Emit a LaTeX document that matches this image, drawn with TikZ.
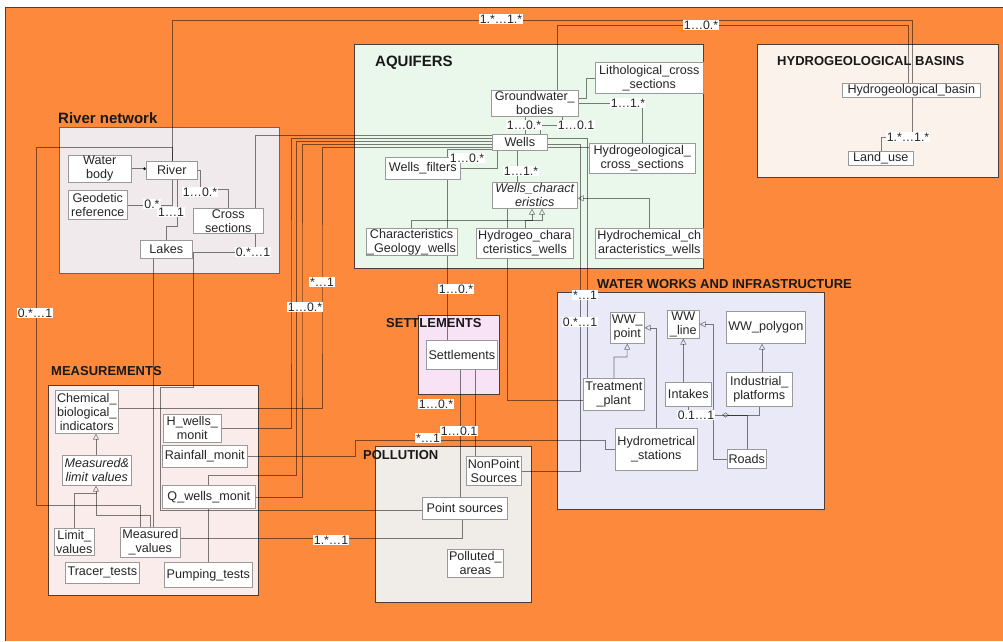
\documentclass[tikz,border=0pt]{standalone}
\usepackage{fontspec}
\setmainfont{Liberation Sans}
\usetikzlibrary{arrows.meta}

\pgfdeclarelayer{back}
\pgfdeclarelayer{wires}
\pgfsetlayers{back,wires,main}

\definecolor{orangebg}{RGB}{253,137,60}
\definecolor{pkgline}{RGB}{80,60,50}
\definecolor{aqfill}{RGB}{233,248,234}
\definecolor{hbfill}{RGB}{252,242,236}
\definecolor{rnfill}{RGB}{240,234,236}
\definecolor{rnline}{RGB}{225,50,60}
\definecolor{msfill}{RGB}{251,236,236}
\definecolor{stfill}{RGB}{248,226,246}
\definecolor{plfill}{RGB}{240,236,232}
\definecolor{wwfill}{RGB}{233,233,248}

\newcommand{\clsfont}{\fontsize{12.6}{13.8}\selectfont}
\newcommand{\pkgfont}{\bfseries\fontsize{13}{15}\selectfont}
\newcommand{\bigpkgfont}{\bfseries\fontsize{15}{17}\selectfont}
\newcommand{\multfont}{\fontsize{12.3}{13}\selectfont}

\begin{document}
\begin{tikzpicture}[x=1pt,y=-1pt,
    cls/.style={draw=black!40, fill=white, font=\clsfont, align=center,
      inner sep=0.8pt, line width=0.6pt, anchor=north west, text=black!85},
    pkg/.style={draw=pkgline, line width=0.8pt},
    title/.style={font=\pkgfont, anchor=west, inner sep=0pt, text=black!90},
    conn/.style={draw=black, draw opacity=0.5, line width=0.6pt},
    gen/.style={-{Triangle[open,length=6pt,width=6pt]}},
    mult/.style={fill=white, font=\multfont, inner sep=1pt, text=black!85}]
  \useasboundingbox (0,0) rectangle (1003,641);

  % packages
  \begin{pgfonlayer}{back}
    \fill[white] (0,0) rectangle (1003,641);
    \fill[orangebg] (5,7) rectangle (1003,641);
    \draw[pkgline, line width=1pt] (5,641) -- (5,7) -- (1003,7);
    \filldraw[pkg, fill=aqfill] (354,44) rectangle (703,268);
    \filldraw[pkg, fill=hbfill] (757,44) rectangle (998,177);
    \filldraw[pkg, draw=rnline, fill=rnfill] (59,127) rectangle (279,273);
    \filldraw[pkg, fill=msfill] (48,385) rectangle (258,595);
    \filldraw[pkg, fill=stfill] (418,315) rectangle (499,394);
    \filldraw[pkg, fill=plfill] (375,446) rectangle (531,602);
    \filldraw[pkg, fill=wwfill] (557,292) rectangle (824,509);
  \end{pgfonlayer}

  \node[title, font=\bigpkgfont] (trn) at (58,118) {River network};
  \node[title, font=\bigpkgfont] (taq) at (375,63) {AQUIFERS};
  \node[title] (thb) at (777,61) {HYDROGEOLOGICAL BASINS};
  \node[title] (tms) at (51,371) {MEASUREMENTS};
  \node[title] (tst) at (386,323) {SETTLEMENTS};
  \node[title] (tpl) at (363,455) {POLLUTION};
  \node[title] (tww) at (597,284) {WATER WORKS AND INFRASTRUCTURE};

  % river network
  \node[cls, minimum width=63, minimum height=23] (wbody) at (68,155) {Water\\body};
  \node[cls, minimum width=51, minimum height=18] (river) at (146,161) {River};
  \node[cls, minimum width=59, minimum height=29] (geod) at (68,190) {Geodetic\\reference};
  \node[cls, minimum width=70, minimum height=25] (cross) at (193,208) {Cross\\sections};
  \node[cls, minimum width=52, minimum height=18] (lakes) at (140,240) {Lakes};

  % aquifers
  \node[cls, minimum width=108, minimum height=31] (litho) at (595,62) {Lithological\_cross\\\_sections};
  \node[cls, minimum width=87, minimum height=26] (gwb) at (491,90) {Groundwater\_\\bodies};
  \node[cls, minimum width=55, minimum height=16] (wells) at (492,134) {Wells};
  \node[cls, minimum width=106, minimum height=30] (hcross) at (589,143) {Hydrogeological\_\\cross\_sections};
  \node[cls, minimum width=75, minimum height=22] (wfilt) at (385,157) {Wells\_filters};
  \node[cls, minimum width=85, minimum height=26, font=\clsfont\itshape] (wchar) at (492,182) {Wells\_charact\\eristics};
  \node[cls, minimum width=88, minimum height=27] (cgeo) at (366,228) {Characteristics\\\_Geology\_wells};
  \node[cls, minimum width=97, minimum height=30] (chgeo) at (476,228) {Hydrogeo\_chara\\cteristics\_wells};
  \node[cls, minimum width=108, minimum height=30] (chchem) at (595,228) {Hydrochemical\_ch\\aracteristics\_wells};

  % hydrogeological basins
  \node[cls, minimum width=138, minimum height=14] (hbasin) at (842,83) {Hydrogeological\_basin};
  \node[cls, minimum width=65, minimum height=14] (landuse) at (848,151) {Land\_use};

  % measurements
  \node[cls, minimum width=63, minimum height=43] (chem) at (55,390) {Chemical\_\\biological\_\\indicators};
  \node[cls, minimum width=58, minimum height=28] (hwm) at (163,414) {H\_wells\_\\monit};
  \node[cls, minimum width=85, minimum height=22] (rain) at (162,445) {Rainfall\_monit};
  \node[cls, minimum width=69, minimum height=30, font=\clsfont\itshape] (mlv) at (62,455) {Measured\&\\limit values};
  \node[cls, minimum width=93, minimum height=23] (qwm) at (162,485) {Q\_wells\_monit};
  \node[cls, minimum width=40, minimum height=27] (limv) at (54,528) {Limit\_\\values};
  \node[cls, minimum width=60, minimum height=30] (measv) at (120,527) {Measured\\\_values};
  \node[cls, minimum width=74, minimum height=21] (tracer) at (65,562) {Tracer\_tests};
  \node[cls, minimum width=88, minimum height=25] (pump) at (164,562) {Pumping\_tests};

  % settlements and pollution
  \node[cls, minimum width=71, minimum height=29] (settl) at (426,340) {Settlements};
  \node[cls, minimum width=55, minimum height=29] (nps) at (466,456) {NonPoint\\Sources};
  \node[cls, minimum width=85, minimum height=22] (ps) at (422,497) {Point sources};
  \node[cls, minimum width=56, minimum height=28] (parea) at (447,549) {Polluted\_\\areas};

  % water works
  \node[cls, minimum width=34, minimum height=31] (wwpt) at (610,312) {WW\_\\point};
  \node[cls, minimum width=32, minimum height=28] (wwln) at (667,310) {WW\\\_line};
  \node[cls, minimum width=79, minimum height=32] (wwpg) at (726,311) {WW\_polygon};
  \node[cls, minimum width=61, minimum height=32] (treat) at (583,378) {Treatment\\\_plant};
  \node[cls, minimum width=46, minimum height=24] (intake) at (665,382) {Intakes};
  \node[cls, minimum width=66, minimum height=34] (indus) at (726,372) {Industrial\_\\platforms};
  \node[cls, minimum width=82, minimum height=42] (hydst) at (615,428) {Hydrometrical\\\_stations};
  \node[cls, minimum width=39, minimum height=19] (roads) at (727,449) {Roads};

  \coordinate (mjoin) at (96,493);
  \coordinate (ipj) at (722,415);

  \begin{pgfonlayer}{wires}
    % long links
    \draw[conn] (river.north) |- (912,20) |- (landuse.north |- 0,137) -- (landuse.north);
    \draw[conn] (557,0 |- gwb.north) |- (908,25) -- (908,0 |- hbasin.north);
    \draw[conn] (255,0 |- cross.north) |- ([yshift=7pt]wells.west);
    \draw[conn] (hwm.east) -| (291,300) |- ([yshift=4pt]wells.west);
    \draw[conn] (pump.north) |- (296,475) |- ([yshift=1pt]wells.west);
    \draw[conn] (qwm.east) -| (302,300) |- ([yshift=-2pt]wells.west);
    \draw[conn] ([yshift=4pt]chem.east) -| (322,300) |- ([yshift=-5pt]wells.west);
    \draw[conn] ([yshift=-7pt]wells.west) -| (447,0 |- settl.north);
    \draw[conn] (255,0 |- cross.south) |- (193,252) |- (160,387) |- ([yshift=-2pt]ps.west);
    \draw[conn] (river.north) |- (36,147) |- (140,505) -- (140,0 |- measv.north);
    \draw[conn] (153,0 |- lakes.south) -- (153,0 |- measv.north);
    \draw[conn] (460,0 |- settl.south) -- (460,0 |- ps.north);
    \draw[conn] (475,0 |- settl.south) -- (475,0 |- nps.north);
    \draw[conn] ([yshift=4pt]measv.east) -| (462,0 |- ps.south);
    \draw[conn] (rain.east) -| (355,440) -| (605,0 |- hydst.west) -- (hydst.west);
    \draw[conn] ([yshift=4pt]wells.east) -| (587,0 |- treat.north);
    \draw[conn] ([yshift=-2pt]wells.east) -| (580,0 |- nps.east) -- (nps.east);
    \draw[conn] (507,0 |- wchar.south) |- ([yshift=-6pt]treat.west);
    % river network
    \draw[conn, -{Circle[length=3pt]}] (wbody.east) -- (wbody.east -| river.west);
    \draw[conn] (geod.east) -| (river.south);
    \draw[conn] (lakes.north) |- (177,226) -- (177,0 |- river.south);
    \draw[conn] (river.east) -| (200,189) -| (cross.north);
    % aquifers
    \draw[conn] ([yshift=-5pt]wells.east) -- ([yshift=-5pt]wells.east -| hcross.west);
    \draw[conn] (gwb.east) -| (hcross.north);
    \draw[conn] ([yshift=5pt]gwb.east) -| (586,0 |- litho.west) -- (litho.west);
    \draw[conn] (525,0 |- gwb.south) -- (525,0 |- wells.north);
    \draw[conn] (562,0 |- gwb.south) |- (540,125) -- (540,0 |- wells.north);
    \draw[conn] (wfilt.east) -| (497,0 |- wells.south);
    \draw[conn] (517,0 |- wells.south) -- (517,0 |- wchar.north);
    \draw[conn, gen] (cgeo.north) |- (532,220) -- (532,0 |- wchar.south);
    \draw[conn, gen] (chgeo.north) |- (542,220) -- (542,0 |- wchar.south);
    \draw[conn, gen] (chchem.north) |- ([yshift=-3pt]wchar.east);
    % measurements
    \draw[conn, gen] (96,0 |- mlv.north) -- (96,0 |- chem.south);
    \draw[conn, gen] (limv.north) |- (mjoin) -- (96,0 |- mlv.south);
    \draw[conn] (150,0 |- measv.north) |- (mjoin |- 0,515) -- (mjoin);
    % water works
    \draw[conn, gen] (614,0 |- treat.north) |- (627,357) -- (wwpt.south);
    \draw[conn, gen] (656,0 |- hydst.north) |- (wwpt.east);
    \draw[conn, gen] (wwln.south |- intake.north) -- (wwln.south);
    \draw[conn, gen] (roads.west) -| (713,0 |- wwln.east) -- (wwln.east);
    \draw[conn, gen] (762,0 |- indus.north) -- (762,0 |- wwpg.south);
    \draw[conn] (intake.south) |- (ipj);
    \draw[conn, {Diamond[open,length=7pt,width=5pt]}-] (ipj) -| (indus.south);
    \draw[conn] (roads.north) |- (ipj);
  \end{pgfonlayer}

  % multiplicities
  \node[mult] (m1) at (501,19) {1.*…1.*};
  \node[mult] (m2) at (701,25) {1…0.*};
  \node[mult] (m3) at (908,137) {1.*…1.*};
  \node[mult] (m4) at (628,103) {1…1.*};
  \node[mult] (m5) at (524,125) {1…0.*};
  \node[mult] (m6) at (576,125) {1…0.1};
  \node[mult] (m7) at (467,158) {1…0.*};
  \node[mult] (m8) at (521,171) {1…1.*};
  \node[mult] (m9) at (200,192) {1…0.*};
  \node[mult] (m10) at (152,204) {0.*};
  \node[mult] (m11) at (171,212) {1…1};
  \node[mult] (m12) at (253,252) {0.*…1};
  \node[mult] (m13) at (322,282) {*…1};
  \node[mult] (m14) at (305,307) {1…0.*};
  \node[mult] (m15) at (35,313) {0.*…1};
  \node[mult] (m16) at (456,289) {1…0.*};
  \node[mult] (m17) at (436,404) {1…0.*};
  \node[mult] (m18) at (459,431) {1…0.1};
  \node[mult] (m19) at (428,438) {*…1};
  \node[mult] (m20) at (585,295) {*…1};
  \node[mult] (m21) at (580,322) {0.*…1};
  \node[mult] (m22) at (696,415) {0.1…1};
  \node[mult] (m23) at (331,540) {1.*…1};
\end{tikzpicture}
\end{document}
